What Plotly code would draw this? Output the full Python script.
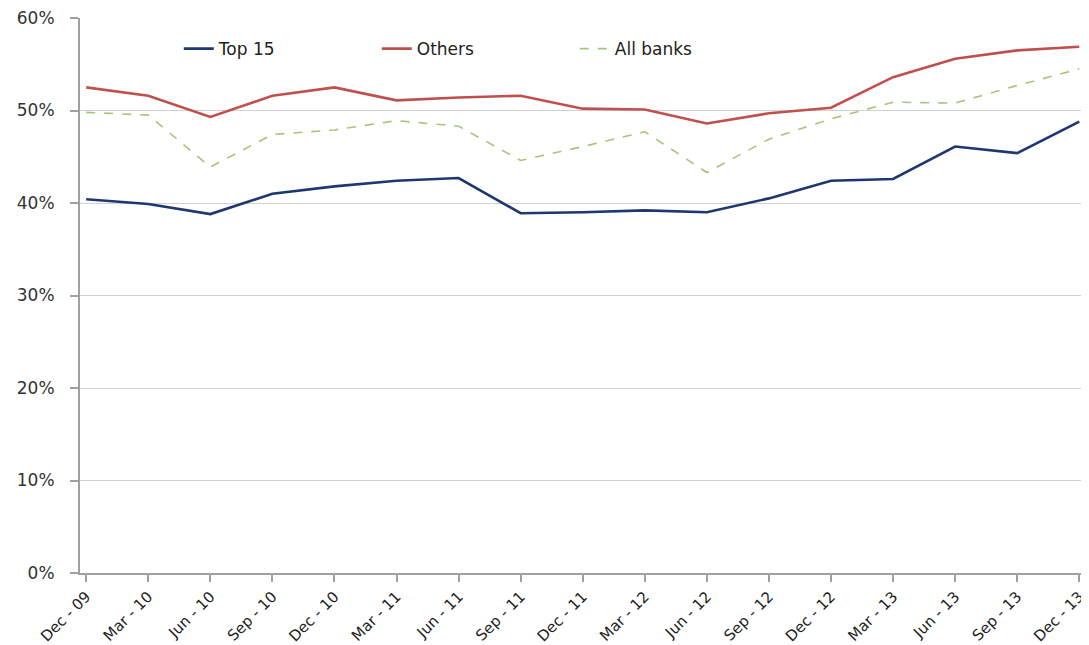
import plotly.graph_objects as go

categories = ["Dec - 09", "Mar - 10", "Jun - 10", "Sep - 10", "Dec - 10", "Mar - 11",
              "Jun - 11", "Sep - 11", "Dec - 11", "Mar - 12", "Jun - 12", "Sep - 12",
              "Dec - 12", "Mar - 13", "Jun - 13", "Sep - 13", "Dec - 13"]

top15 = [40.4, 39.9, 38.8, 41.0, 41.8, 42.4, 42.7, 38.9, 39.0, 39.2, 39.0, 40.5,
         42.4, 42.6, 46.1, 45.4, 48.8]
others = [52.5, 51.6, 49.3, 51.6, 52.5, 51.1, 51.4, 51.6, 50.2, 50.1, 48.6, 49.7,
          50.3, 53.6, 55.6, 56.5, 56.9]
all_banks = [49.8, 49.5, 43.9, 47.4, 47.9, 48.9, 48.3, 44.6, 46.1, 47.7, 43.3, 46.9,
             49.1, 50.9, 50.8, 52.7, 54.5]

y_ticks = [0, 10, 20, 30, 40, 50, 60]
y_tick_labels = ["0%", "10%", "20%", "30%", "40%", "50%", "60%"]

x_idx = list(range(len(categories)))

fig = go.Figure()
fig.add_trace(go.Scatter(x=x_idx, y=top15, mode="lines", name="Top 15",
                         line=dict(color="#1F3770", width=2.6)))
fig.add_trace(go.Scatter(x=x_idx, y=others, mode="lines", name="Others",
                         line=dict(color="#C0504D", width=2.6)))
fig.add_trace(go.Scatter(x=x_idx, y=all_banks, mode="lines", name="All banks",
                         line=dict(color="#A8C47A", width=1.6, dash="dash")))

# page body has an 8px default margin, so the figure is sized to fit inside it
fig.update_layout(
    width=1081, height=637,
    margin=dict(l=72, r=6, t=10, b=72, autoexpand=False),
    paper_bgcolor="white", plot_bgcolor="white",
    font=dict(family="DejaVu Sans", size=15, color="#333333"),
    showlegend=True,
    legend=dict(orientation="h", x=0.0985, y=0.944, xanchor="left", yanchor="middle",
                entrywidth=153, entrywidthmode="pixels",
                font=dict(family="DejaVu Sans", size=17, color="#222222"),
                bgcolor="rgba(0,0,0,0)"),
    xaxis=dict(
        tickmode="array", tickvals=x_idx, ticktext=categories,
        range=[-0.1, 16.06], tickangle=-45, automargin=False,
        ticklabeloverflow="allow",
        showgrid=False, showline=True, linecolor="#A0A0A0", linewidth=2,
        ticks="outside", ticklen=7, tickcolor="#A0A0A0", tickwidth=1.5,
        tickfont=dict(family="DejaVu Sans", size=15, color="#222222"),
        zeroline=False,
    ),
    yaxis=dict(
        tickmode="array", tickvals=y_ticks, ticktext=y_tick_labels,
        range=[0, 60], automargin=False, ticklabeloverflow="allow",
        showgrid=True, gridcolor="#D0D0D0", gridwidth=1,
        showline=True, linecolor="#A0A0A0", linewidth=2,
        ticks="outside", ticklen=8, tickcolor="#A0A0A0", tickwidth=1.5,
        ticklabelstandoff=12,
        tickfont=dict(family="DejaVu Sans", size=17, color="#333333"),
        zeroline=False,
    ),
)

fig.write_html("out.html")
